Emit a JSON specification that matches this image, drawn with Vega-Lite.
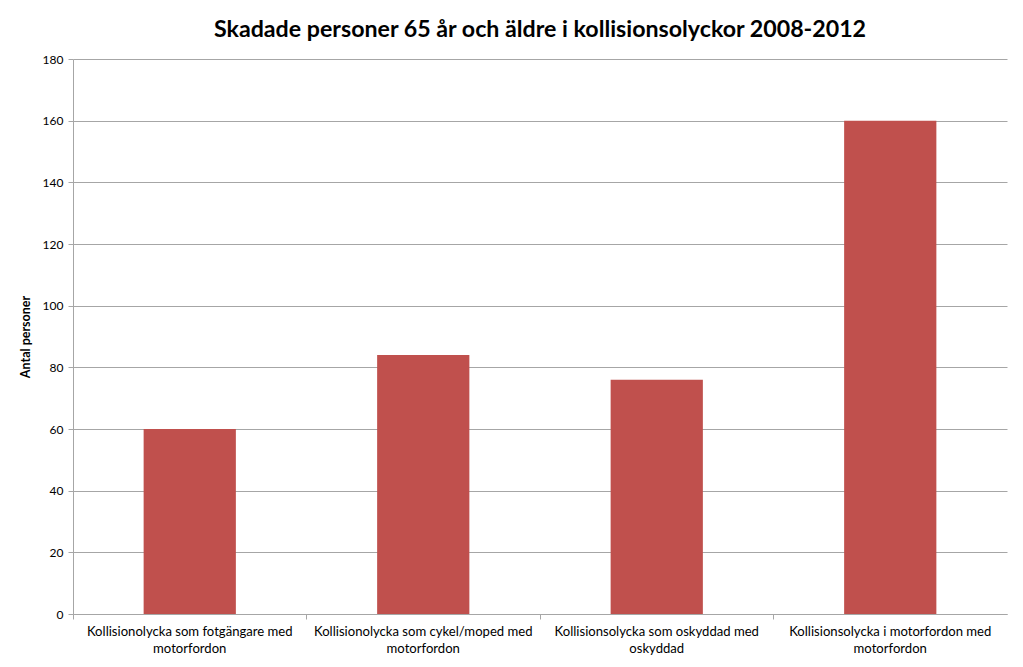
{
  "$schema": "https://vega.github.io/schema/vega-lite/v6.json",
  "width": 934,
  "height": 555,
  "autosize": {"type": "none"},
  "padding": {"left": 73, "top": 59, "right": 16, "bottom": 53},
  "background": "white",
  "title": {
    "text": "Skadade personer 65 år och äldre i kollisionsolyckor 2008-2012",
    "font": "Lato",
    "fontSize": 23.2,
    "fontWeight": "bold",
    "color": "#000000",
    "anchor": "middle",
    "offset": 11
  },
  "data": {
    "values": [
      {"kategori": "Kollisionolycka som fotgängare med motorfordon", "antal": 60},
      {"kategori": "Kollisionolycka som cykel/moped med motorfordon", "antal": 84},
      {"kategori": "Kollisionsolycka som oskyddad med oskyddad", "antal": 76},
      {"kategori": "Kollisionsolycka i motorfordon med motorfordon", "antal": 160}
    ]
  },
  "mark": {"type": "bar", "color": "#C0504D", "width": {"band": 0.395}},
  "encoding": {
    "x": {
      "field": "kategori",
      "type": "nominal",
      "sort": null,
      "scale": {"paddingInner": 0, "paddingOuter": 0},
      "axis": {
        "title": null,
        "labelAngle": 0,
        "labelLimit": 0,
        "labelExpr": "[substring(datum.label, 0, lastindexof(datum.label, ' ')), substring(datum.label, lastindexof(datum.label, ' ') + 1)]",
        "labelFont": "Lato",
        "labelFontSize": 13.1,
        "labelColor": "#000000",
        "labelPadding": 6,
        "labelLineHeight": 17,
        "bandPosition": 0,
        "tickSize": 5,
        "tickColor": "#a6a6a6",
        "domainColor": "#a6a6a6",
        "grid": false
      }
    },
    "y": {
      "field": "antal",
      "type": "quantitative",
      "scale": {"domain": [0, 180]},
      "axis": {
        "title": "Antal personer",
        "titleFont": "Lato",
        "titleFontSize": 12.5,
        "titleFontWeight": "bold",
        "titleColor": "#000000",
        "titlePadding": 10,
        "values": [0, 20, 40, 60, 80, 100, 120, 140, 160, 180],
        "labelFont": "Lato",
        "labelFontSize": 12,
        "labelColor": "#000000",
        "labelPadding": 5,
        "tickSize": 5,
        "tickColor": "#a6a6a6",
        "domainColor": "#a6a6a6",
        "gridColor": "#a6a6a6"
      }
    }
  },
  "config": {"view": {"stroke": null}}
}
